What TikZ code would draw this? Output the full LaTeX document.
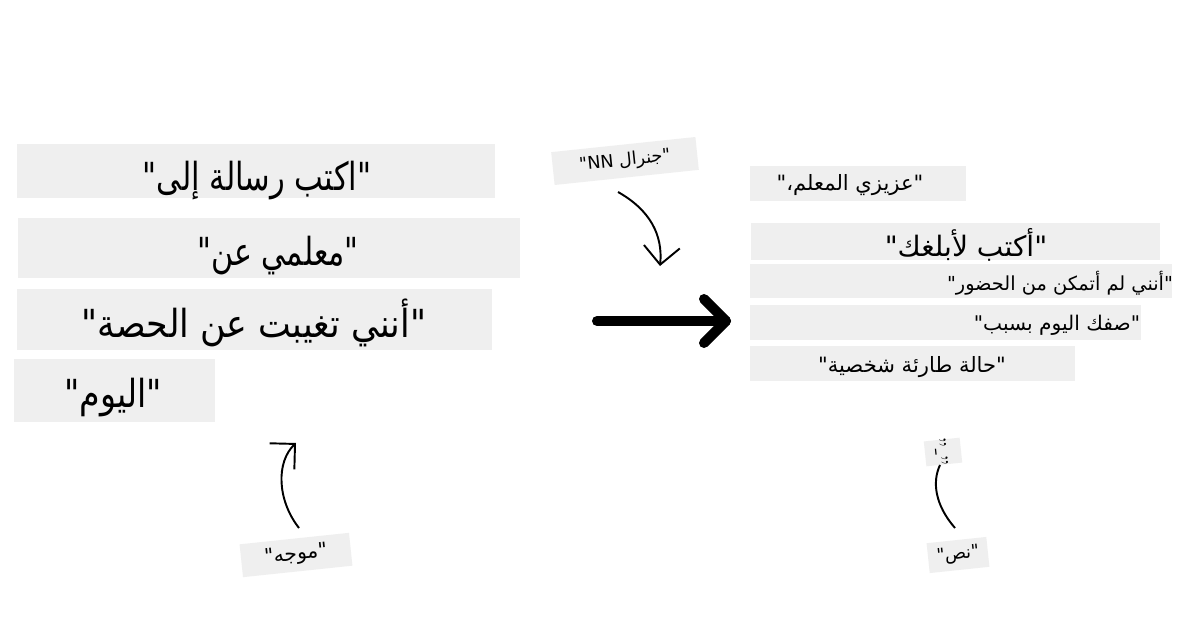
\documentclass[tikz,border=0pt]{standalone}
\usepackage{fontspec}
\usetikzlibrary{arrows.meta}
\TeXXeTstate=1
\newfontfamily\arabicfont[Script=Arabic]{DejaVu Sans}
\definecolor{boxgray}{HTML}{EFEFEF}
\newcommand{\hsq}[2]{\scalebox{#1}[1]{#2}}
\begin{document}
\begin{tikzpicture}[x=0.02cm,y=-0.02cm,
  gbox/.style={fill=boxgray,draw=none,inner sep=0pt},
  bigtxt/.style={font=\arabicfont\fontsize{22}{26}\selectfont,inner sep=0pt},
  smalltxt/.style={font=\arabicfont\fontsize{12}{14}\selectfont,inner sep=0pt},
  lbl/.style={fill=boxgray,draw=none,inner sep=0pt,font=\arabicfont\fontsize{10}{12}\selectfont},
  thinarrow/.style={line width=1.1pt,-{Straight Barb[length=0.36cm,width=0.72cm]}},
  thinline/.style={line width=1.1pt},
  bigarrow/.style={line width=5.7pt,line cap=round,line join=round}]
\useasboundingbox[fill=white] (0,0) rectangle (1200,628);
% left boxes
\node[gbox,minimum width=9.56cm,minimum height=1.08cm] (b1) at (256,171) {};
\node[gbox,minimum width=10.04cm,minimum height=1.2cm] (b2) at (269,248) {};
\node[gbox,minimum width=9.5cm,minimum height=1.22cm] (b3) at (254.5,319.5) {};
\node[gbox,minimum width=4.02cm,minimum height=1.26cm] (b4) at (114.5,390.5) {};
\node[bigtxt] (t1) at (257,181) {\hsq{0.79}{\beginR"اكتب رسالة إلى"\endR}};
\node[bigtxt] (t2) at (278,256) {\hsq{0.78}{\beginR"معلمي عن"\endR}};
\node[bigtxt] (t3) at (254,323) {\hsq{0.9}{\beginR"أنني تغيبت عن الحصة"\endR}};
\node[bigtxt] (t4) at (113,398) {\hsq{0.86}{\beginR"اليوم"\endR}};
% right boxes
\node[gbox,minimum width=4.32cm,minimum height=0.7cm] (r1) at (858,183.5) {};
\node[gbox,minimum width=8.18cm,minimum height=0.74cm] (r2) at (955.5,241.5) {};
\node[gbox,minimum width=8.44cm,minimum height=0.68cm] (r3) at (961,281) {};
\node[gbox,minimum width=7.82cm,minimum height=0.7cm] (r4) at (945.5,322.5) {};
\node[gbox,minimum width=6.5cm,minimum height=0.7cm] (r5) at (912.5,363.5) {};
\node[smalltxt] (s1) at (850,185) {\beginR"عزيزي المعلم،"\endR};
\node[smalltxt,font=\arabicfont\fontsize{16}{18}\selectfont] (s2) at (966,245) {\beginR"أكتب لأبلغك"\endR};
\node[smalltxt,font=\arabicfont\fontsize{11}{13}\selectfont] (s3) at (1060,283) {\beginR"أنني لم أتمكن من الحضور"\endR};
\node[smalltxt,font=\arabicfont\fontsize{11.5}{13}\selectfont] (s4) at (1057,325) {\beginR"صفك اليوم بسبب"\endR};
\node[smalltxt] (s5) at (912,367) {\beginR"حالة طارئة شخصية"\endR};
% labels
\node[lbl,minimum width=2.9cm,minimum height=0.66cm,rotate=6] (nn) at (625,161) {\beginR"جنرال \beginL NN\endL{}"\endR};
\node[lbl,minimum width=2.2cm,minimum height=0.66cm,rotate=6,font=\arabicfont\fontsize{11.5}{13}\selectfont] (mw) at (296,555) {\beginR"موجه"\endR};
\node[lbl,minimum width=1.2cm,minimum height=0.6cm,rotate=6] (ns) at (958,555) {\beginR"نص"\endR};
\node[lbl,minimum width=0.72cm,minimum height=0.5cm,rotate=6] (sm) at (943,452) {};
\node[inner sep=0pt,font=\fontsize{13}{13}\selectfont,rotate=-84] (smt) at (939,452) {"-"};
% connectors
\coordinate (nnA) at (618,192);
\coordinate (nnB) at (660,266);
\draw[thinarrow] (nnA) .. controls (650,210) and (663,235) .. (nnB);
\coordinate (mwA) at (299,528);
\coordinate (mwB) at (296,443);
\draw[thinarrow] (mwA) .. controls (277,500) and (276,462) .. (mwB);
\coordinate (nsA) at (955,528);
\coordinate (nsB) at (940,465);
\draw[thinline] (nsA) .. controls (935,505) and (932,482) .. (nsB);
% big arrow
\coordinate (ba) at (597,321);
\coordinate (bb) at (726,321);
\coordinate (bu) at (704,299);
\coordinate (bd) at (704,343);
\draw[bigarrow] (ba) -- (bb);
\draw[bigarrow] (bu) -- (bb) -- (bd);
\end{tikzpicture}
\end{document}
